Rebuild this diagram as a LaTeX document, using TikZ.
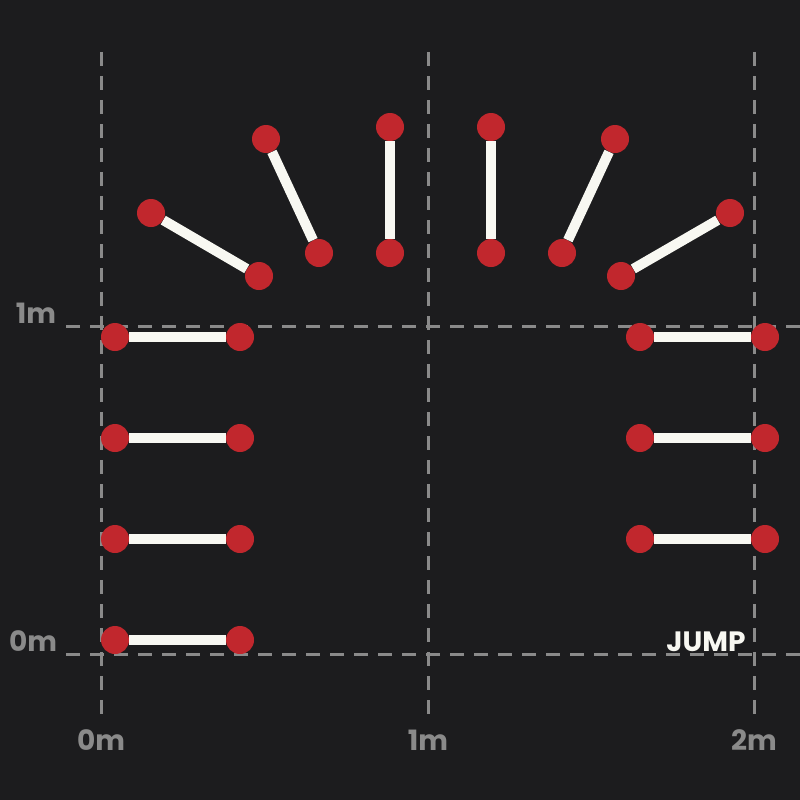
\documentclass[tikz,border=0pt]{standalone}
\usepackage{fontspec}
\setmainfont{Poppins}
\definecolor{bg}{HTML}{1C1C1E}
\definecolor{dotred}{HTML}{C1272D}
\definecolor{bar}{HTML}{F8F8F2}
\definecolor{gridc}{HTML}{8A8A8A}
\tikzset{
  dot/.style={circle,fill=dotred,draw=none,minimum size=28pt,inner sep=0pt},
  rung/.style={draw=bar,line width=10pt},
  gridline/.style={draw=gridc,line width=3pt,dash pattern=on 14pt off 10pt},
  axlabel/.style={text=gridc,font=\fontsize{28}{30}\selectfont\bfseries,inner sep=0pt},
  jumpstyle/.style={font=\fontsize{28}{30}\selectfont\bfseries,inner sep=0pt},
}
\begin{document}
\begin{tikzpicture}[x=1pt,y=-1pt]
\fill[bg] (0,0) rectangle (800,800);
\useasboundingbox (0,0) rectangle (800,800);
% grid
\coordinate (v0t) at (101,52); \coordinate (v0b) at (101,716);
\coordinate (v1t) at (428,52); \coordinate (v1b) at (428,716);
\coordinate (v2t) at (754,52); \coordinate (v2b) at (754,716);
\coordinate (h1l) at (66,326); \coordinate (h1r) at (800,326);
\coordinate (h0l) at (66,654); \coordinate (h0r) at (800,654);
\draw[gridline] (v0t) -- (v0b);
\draw[gridline] (v1t) -- (v1b);
\draw[gridline] (v2t) -- (v2b);
\draw[gridline] (h1l) -- (h1r);
\draw[gridline] (h0l) -- (h0r);
% labels
\node[axlabel] (l1m) at (36,313) {1m};
\node[axlabel] (l0m) at (33,641) {0m};
\node[axlabel] (b0) at (101,740) {0m};
\node[axlabel] (b1) at (428,740) {1m};
\node[axlabel] (b2) at (754,740) {2m};
\node[jumpstyle,text=bar] (jump) at (706,642) {JUMP};
% arc dots
\node[dot] (a1) at (151,213) {}; \node[dot] (a1b) at (259,276) {};
\node[dot] (a2) at (266,139) {}; \node[dot] (a2b) at (319,253) {};
\node[dot] (a3) at (390,127) {}; \node[dot] (a3b) at (390,253) {};
\node[dot] (a4) at (491,127) {}; \node[dot] (a4b) at (491,253) {};
\node[dot] (a5) at (615,139) {}; \node[dot] (a5b) at (562,253) {};
\node[dot] (a6) at (730,213) {}; \node[dot] (a6b) at (621,276) {};
\foreach \i in {1,...,6} \draw[rung] (a\i) -- (a\i b);
% left rungs
\foreach \i/\y in {1/337,2/438,3/539,4/640} {
  \node[dot] (L\i a) at (115,\y) {};
  \node[dot] (L\i b) at (240,\y) {};
  \draw[rung] (L\i a) -- (L\i b);
}
% right rungs
\foreach \i/\y in {1/337,2/438,3/539} {
  \node[dot] (R\i a) at (640,\y) {};
  \node[dot] (R\i b) at (765,\y) {};
  \draw[rung] (R\i a) -- (R\i b);
}
\end{tikzpicture}
\end{document}
